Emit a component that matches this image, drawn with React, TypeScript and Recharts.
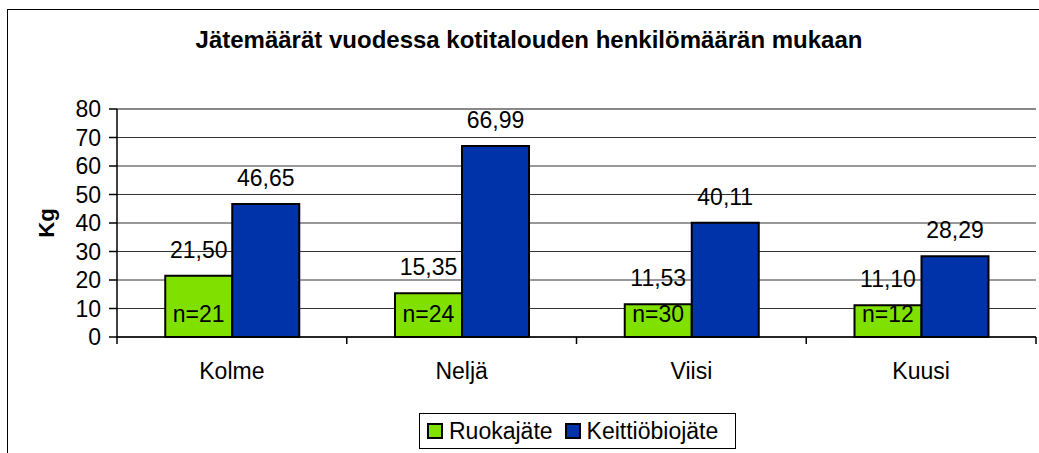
import { Bar, BarChart, CartesianGrid, LabelList, Legend, ReferenceLine, XAxis, YAxis } from 'recharts'

const FONT = 'Arial, "Liberation Sans", sans-serif'

const CATEGORIES = ['Kolme', 'Neljä', 'Viisi', 'Kuusi']
const RUOKAJATE = [21.5, 15.35, 11.53, 11.1]
const KEITTIOBIO = [46.65, 66.99, 40.11, 28.29]
const N_COUNTS = [21, 24, 30, 12]
const Y_TICKS = [0, 10, 20, 30, 40, 50, 60, 70, 80]

const SERIES = [
  { key: 'ruoka', name: 'Ruokajäte', fill: '#80e000' },
  { key: 'keittio', name: 'Keittiöbiojäte', fill: '#0033aa' },
]

const DATA = CATEGORIES.map((name, i) => ({
  name,
  ruoka: RUOKAJATE[i],
  keittio: KEITTIOBIO[i],
  n: N_COUNTS[i],
}))

const fmt = (v: any) => Number(v).toFixed(2).replace('.', ',')

// category label + tick marks on the band edges (Excel puts them between categories)
function CatTick(props: any) {
  const { x, y, payload, index } = props
  const half = payload.offset || 0
  const last = index === CATEGORIES.length - 1
  return (
    <g>
      <line x1={x - half} x2={x - half} y1={y} y2={y + 7} stroke="#000" strokeWidth={1.5} />
      {last && <line x1={x + half} x2={x + half} y1={y} y2={y + 7} stroke="#000" strokeWidth={1.5} />}
      <text x={x} y={y + 42} textAnchor="middle" fill="#000" fontSize={23} fontFamily={FONT}>
        {payload.value}
      </text>
    </g>
  )
}

function LegendBox() {
  return (
    <div
      style={{
        display: 'flex',
        alignItems: 'center',
        border: '1px solid #000',
        height: 34,
        padding: '0 17px 0 7px',
        background: '#fff',
        fontFamily: FONT,
        fontSize: 23,
        color: '#000',
        whiteSpace: 'nowrap',
      }}
    >
      {SERIES.map((s, i) => (
        <span key={s.key} style={{ display: 'flex', alignItems: 'center', marginLeft: i ? 12 : 0 }}>
          <span
            style={{
              width: 12,
              height: 12,
              background: s.fill,
              border: '2px solid #000',
              marginRight: 6,
              display: 'inline-block',
            }}
          />
          {s.name}
        </span>
      ))}
    </div>
  )
}

export default function App() {
  return (
    <div style={{ position: 'absolute', left: 0, top: 0, width: 1039, height: 453, background: '#fff', overflow: 'hidden' }}>
      {/* outer chart frame */}
      <div style={{ position: 'absolute', left: 7, top: 9, width: 1060, height: 480, border: '1px solid #000' }} />
      <div
        style={{
          position: 'absolute',
          left: 529,
          top: 28,
          transform: 'translateX(-50%)',
          whiteSpace: 'nowrap',
          fontFamily: FONT,
          fontWeight: 'bold',
          fontSize: 24,
          lineHeight: '24px',
        }}
      >
        Jätemäärät vuodessa kotitalouden henkilömäärän mukaan
      </div>
      <div
        style={{
          position: 'absolute',
          left: 47,
          top: 223,
          transform: 'translate(-50%, -50%) rotate(-90deg)',
          fontFamily: FONT,
          fontWeight: 'bold',
          fontSize: 22,
          lineHeight: '22px',
        }}
      >
        Kg
      </div>
      <div style={{ position: 'absolute', left: 0, top: 0 }}>
        <BarChart
          width={1039}
          height={453}
          data={DATA}
          margin={{ top: 109, right: 3, bottom: 76, left: 0 }}
          barCategoryGap="21%"
          barGap={0}
        >
          <CartesianGrid vertical={false} stroke="#333" strokeWidth={1} />
          <XAxis
            dataKey="name"
            stroke="#000"
            strokeWidth={1.5}
            tickLine={false}
            tickSize={0}
            tickMargin={0}
            height={40}
            interval={0}
            tick={<CatTick />}
          />
          <YAxis
            domain={[0, 80]}
            ticks={Y_TICKS}
            interval={0}
            width={117}
            tickSize={8}
            tickMargin={8}
            stroke="#000"
            strokeWidth={1.5}
            tick={{ fill: '#000', fontSize: 23, fontFamily: FONT }}
          />
          <YAxis
            yAxisId="frame"
            orientation="right"
            width={0}
            domain={[0, 80]}
            tick={false}
            tickLine={false}
            stroke="#888"
            strokeWidth={2}
          />
          <ReferenceLine y={80} stroke="#888" strokeWidth={2} />
          <Legend
            layout="horizontal"
            verticalAlign="middle"
            align="center"
            wrapperStyle={{ left: 419, top: 413, width: 'auto', height: 'auto' }}
            content={() => <LegendBox />}
          />
          <Bar dataKey="ruoka" name="Ruokajäte" fill="#80e000" stroke="#000" strokeWidth={2} isAnimationActive={false}>
            <LabelList dataKey="ruoka" position="top" offset={18} formatter={fmt} fill="#000" fontSize={23} fontFamily={FONT} />
            <LabelList
              dataKey="n"
              position="insideBottom"
              offset={15}
              formatter={(v: any) => `n=${v}`}
              fill="#000"
              fontSize={23}
              fontFamily={FONT}
            />
          </Bar>
          <Bar dataKey="keittio" name="Keittiöbiojäte" fill="#0033aa" stroke="#000" strokeWidth={2} isAnimationActive={false}>
            <LabelList dataKey="keittio" position="top" offset={18} formatter={fmt} fill="#000" fontSize={23} fontFamily={FONT} />
          </Bar>
        </BarChart>
      </div>
    </div>
  )
}
